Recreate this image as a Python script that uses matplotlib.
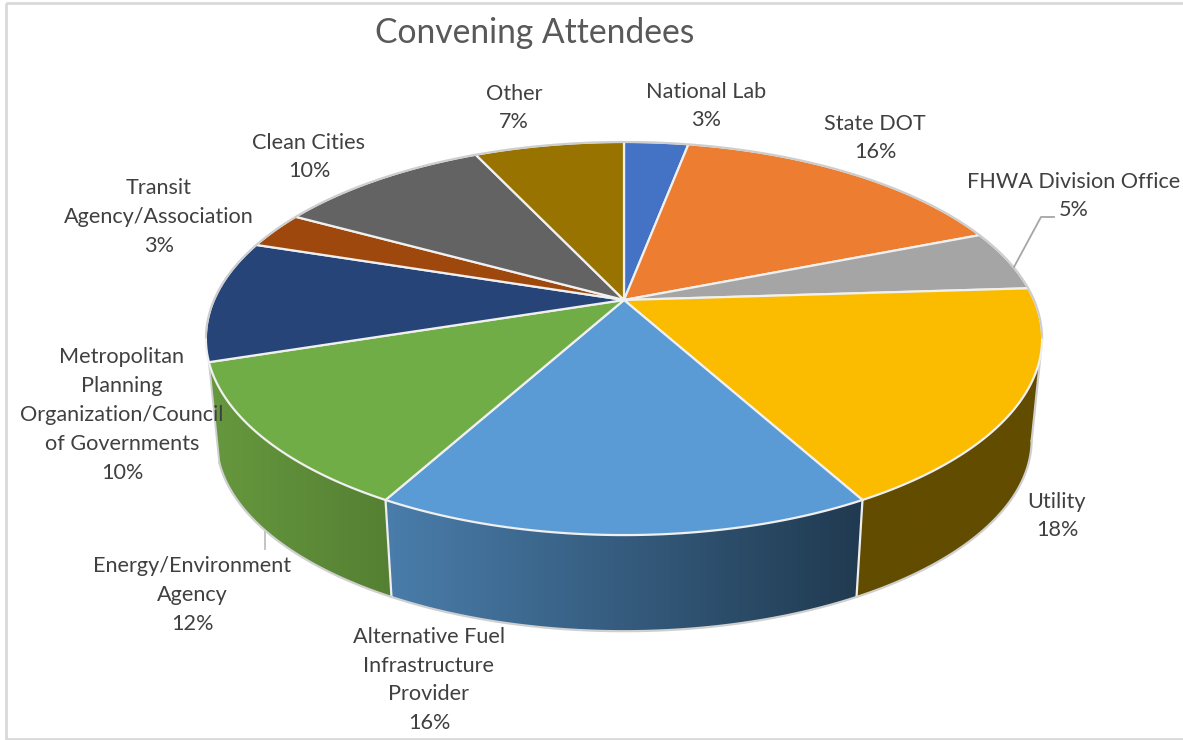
import numpy as np
import matplotlib
matplotlib.use("Agg")
import matplotlib.pyplot as plt
from matplotlib.colors import to_rgb
from matplotlib.patches import Polygon, Rectangle

categories = ["National Lab", "State DOT", "FHWA Division Office", "Utility",
              "Alternative Fuel\nInfrastructure\nProvider", "Energy/Environment\nAgency",
              "Metropolitan\nPlanning\nOrganization/Council\nof Governments",
              "Transit\nAgency/Association", "Clean Cities", "Other"]
shares = [3, 16, 5, 18, 16, 12, 10, 3, 10, 7]

top_colors = ["#4472C4", "#ED7D31", "#A5A5A5", "#FBBC00", "#5B9BD5",
              "#70AD47", "#264478", "#9E480E", "#636363", "#997300"]
# left and right ends of the shading on the visible side walls
wall_shades = {3: ("#624C00", "#624C00"),
               4: ("#4A7DAB", "#203A50"),
               5: ("#66983E", "#558033")}
label_pos = [(706, 106), (875, 138), (1074, 196), (1057, 516), (429, 680),
             (192, 595), (122, 415), (159, 217), (309, 157), (514, 108)]

# pie geometry, in pixels
CX, CY = 624, 300
PERSP, DEPTH_Y, SCALE_X = 0.196, 189, 410
WALL_SHRINK, WALL_CY = 0.975, 402


def project(theta):
    # circle seen in perspective, theta clockwise from 12 o'clock
    x, y = np.sin(theta), np.cos(theta)
    den = 1 + PERSP * y
    return SCALE_X * x / den, -DEPTH_Y * y / den


def top_rim(theta):
    dx, dy = project(theta)
    return np.column_stack([CX + dx, CY + dy])


def bottom_rim(theta):
    dx, dy = project(theta)
    return np.column_stack([CX + WALL_SHRINK * dx, WALL_CY + WALL_SHRINK * dy])


plt.rcParams["font.family"] = ["Lato", "DejaVu Sans"]
fig = plt.figure(figsize=(11.83, 7.40), dpi=100)
ax = fig.add_axes([0, 0, 1, 1])

edges = np.radians(np.cumsum([0] + shares) * 3.6)
arcs = [np.linspace(a, b, 120) for a, b in zip(edges[:-1], edges[1:])]

# angle where the rim turns away from the viewer on the right
silhouette = np.arccos(-PERSP)

# side walls first, the top face covers whatever sits behind it
for i, (left, right) in wall_shades.items():
    arc = arcs[i]
    arc = arc[arc >= silhouette]
    pts = np.vstack([top_rim(arc), bottom_rim(arc)[::-1]])
    poly = Polygon(pts, closed=True, fc="none", ec="none", zorder=2)
    ax.add_patch(poly)
    c0, c1 = np.array(to_rgb(left)), np.array(to_rgb(right))
    ramp = np.linspace(0, 1, 256)[None, :, None]
    img = ax.imshow(c0 + (c1 - c0) * ramp, aspect="auto", zorder=2,
                    extent=[pts[:, 0].min(), pts[:, 0].max(), pts[:, 1].max(), pts[:, 1].min()])
    img.set_clip_path(poly)
    # seams between the walls, the first wall starts on the outer edge
    seam = "#cfcfcf" if i == 3 else "#eeeeee"
    ax.plot(*np.vstack([top_rim(arc[:1]), bottom_rim(arc[:1])]).T, color=seam, lw=1.6, zorder=3)
    ax.plot(*bottom_rim(arc).T, color="#cfcfcf", lw=1.6, zorder=3)

# outer edge of the wall on the left
ax.plot(*np.vstack([top_rim(arcs[5][-1:]), bottom_rim(arcs[5][-1:])]).T, color="#cfcfcf", lw=1.4, zorder=3)

for i, arc in enumerate(arcs):
    pts = np.vstack([[CX, CY], top_rim(arc)])
    ax.add_patch(Polygon(pts, closed=True, fc=top_colors[i], ec="#f0f0f0", lw=1.6,
                         joinstyle="round", zorder=4))

# faint grey outline round the back of the pie
back = np.radians(np.linspace(-101, 101, 300))
ax.plot(*top_rim(back).T, color="#cdcdcd", lw=1.4, zorder=5)

# leader lines for the two labels placed off their slices
ax.plot([1014, 1041, 1054], [267, 217, 217], color="#a6a6a6", lw=1.3, zorder=5)
ax.plot([265.5, 265.5], [522, 549], color="#bfbfbf", lw=1.3, zorder=1)

for name, share, (x, y) in zip(categories, shares, label_pos):
    ax.text(x, y, f"{name}\n{share}%", ha="center", va="center", ma="center",
            fontsize=15.6, color="#404040", linespacing=1.56, zorder=6)

ax.text(535, 33, "Convening Attendees", ha="center", va="center",
        fontsize=24.2, color="#595959", zorder=6)

# chart area border, the right side runs off the canvas
ax.add_patch(Rectangle((6, 3), 1190, 736, fc="none", ec="#d9d9d9", lw=2, zorder=0))

ax.set_xlim(0, 1183)
ax.set_ylim(740, 0)
ax.axis("off")
fig.savefig("out.png", dpi=100)
